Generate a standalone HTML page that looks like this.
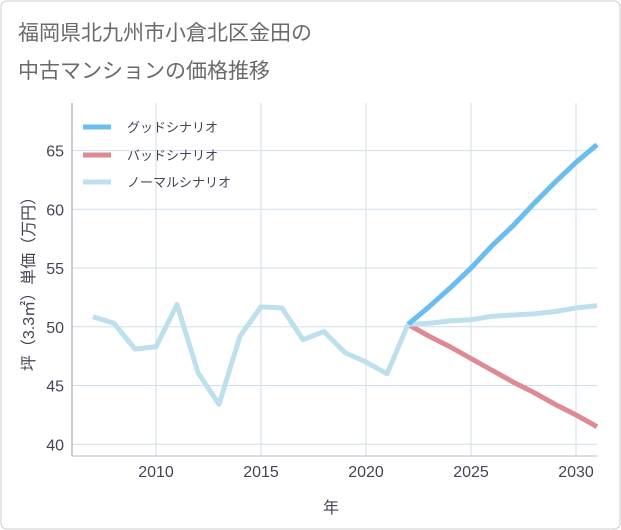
<!DOCTYPE html>
<html><head><meta charset="utf-8"><style>
body{margin:0;background:#fff;}
svg{display:block;font-family:"Liberation Sans","Noto Sans CJK JP",sans-serif;}
</style></head><body>
<svg id="c" width="621" height="530">
<rect x="1" y="1" width="619" height="528" rx="6" fill="#fff" stroke="#ccc"/>
<text x="18" y="40" font-size="21" fill="#6a6a6a">福岡県北九州市小倉北区金田の</text>
<text x="18" y="78" font-size="21" fill="#6a6a6a">中古マンションの価格推移</text>
<g id="grid"></g><g id="series"></g><g id="axes"></g>
<text x="331" y="513" font-size="16" fill="#445" text-anchor="middle">年</text>
<text transform="translate(34,280) rotate(-90)" font-size="16" fill="#445" text-anchor="middle">坪（3.3㎡）単価（万円）</text>
<g>
<line x1="83" y1="127" x2="111" y2="127" stroke="#6bbdf0" stroke-width="5"/>
<text x="127" y="132" font-size="13" fill="#445">グッドシナリオ</text>
<line x1="83" y1="155" x2="111" y2="155" stroke="#de8a93" stroke-width="5"/>
<text x="127" y="160" font-size="13" fill="#445">バッドシナリオ</text>
<line x1="83" y1="182" x2="111" y2="182" stroke="#bde0ec" stroke-width="5"/>
<text x="127" y="187" font-size="13" fill="#445">ノーマルシナリオ</text>
</g>
</svg>
<script>
const histYears=[2007,2008,2009,2010,2011,2012,2013,2014,2015,2016,2017,2018,2019,2020,2021,2022];
const histValues=[50.85,50.3,48.1,48.3,51.9,46.1,43.4,49.2,51.7,51.6,48.9,49.6,47.8,47.0,46.0,50.2];
const futYears=[2022,2023,2024,2025,2026,2027,2028,2029,2030,2031];
const goodValues=[50.2,51.7,53.3,55.0,56.9,58.6,60.5,62.3,64.0,65.5];
const badValues=[50.2,49.2,48.3,47.3,46.3,45.3,44.4,43.4,42.5,41.5];
const normalValues=[50.2,50.3,50.5,50.6,50.9,51.0,51.1,51.3,51.6,51.8];
const xTicks=[2010,2015,2020,2025,2030];
const yTicks=[40,45,50,55,60,65];
const L=72,R=597,T=103,B=456,x0=2006,x1=2031,y0=39,y1=69.05;
const X=v=>L+(v-x0)/(x1-x0)*(R-L);
const Y=v=>B-(v-y0)/(y1-y0)*(B-T);
const NS="http://www.w3.org/2000/svg";
function mk(tag,attrs,parent){const e=document.createElementNS(NS,tag);for(const k in attrs)e.setAttribute(k,attrs[k]);document.getElementById(parent).appendChild(e);return e;}
xTicks.forEach(t=>{
  const l=mk('line',{x1:X(t),x2:X(t),y1:T,y2:B,stroke:'#cfdfea','stroke-width':1},'grid');
  
  
  const tx=mk('text',{x:X(t),y:B+21,'font-size':16,fill:'#445','text-anchor':'middle'},'axes');
  tx.textContent=t;
  
  
});
yTicks.forEach(t=>{
  const l=mk('line',{x1:L,x2:R,y1:Y(t),y2:Y(t),stroke:'#cfdfea','stroke-width':1},'grid');
  
  
  const tx=mk('text',{x:L-8,y:Y(t)+6,'font-size':16,fill:'#445','text-anchor':'end'},'axes');
  tx.textContent=t;
  
  
});
const ax=mk('line',{x1:L,x2:L,y1:T,y2:B,stroke:'#99a',"stroke-width":1},'axes');


const ax2=mk('line',{x1:L,x2:R,y1:B,y2:B,stroke:'#bbc',"stroke-width":1},'axes');


function line(xs,vs,color,name){
  const p=mk('polyline',{points:xs.map((x,i)=>X(x)+','+Y(vs[i])).join(' '),fill:'none',stroke:color,'stroke-width':5,'stroke-linejoin':'round'},'series');
  
  
}
line(futYears,badValues,'#de8a93','bad-scenario-line');
line(futYears,normalValues,'#bde0ec','normal-scenario-line');
line(futYears,goodValues,'#6bbdf0','good-scenario-line');
line(histYears,histValues,'#bde0ec','historical-line');
</script>
</body></html>
